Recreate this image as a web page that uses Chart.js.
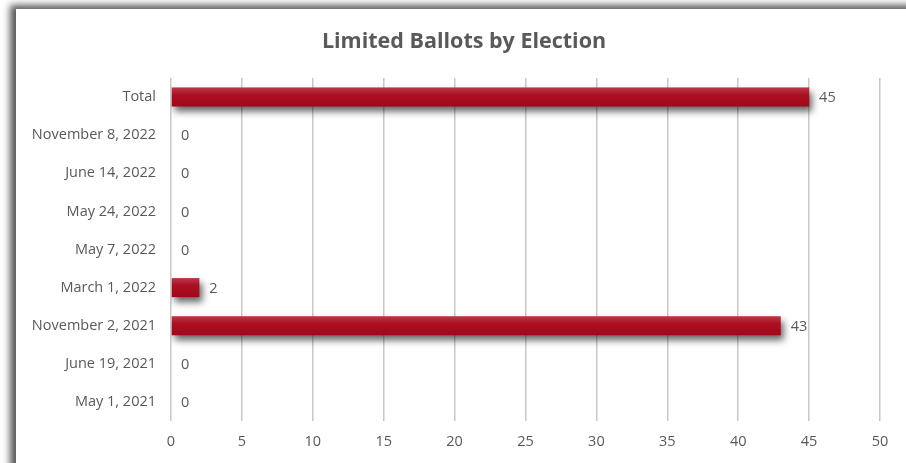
<!DOCTYPE html>
<html>
<head>
<meta charset="utf-8">
<script src="https://cdn.jsdelivr.net/npm/chart.js@4"></script>
<style>
  html, body { margin: 0; padding: 0; background: #fff; }
  #wrap { position: relative; width: 906px; height: 463px; }
</style>
</head>
<body>
<div id="wrap"><canvas id="chart"></canvas></div>
<script>
const elections = [
  "Total",
  "November 8, 2022",
  "June 14, 2022",
  "May 24, 2022",
  "May 7, 2022",
  "March 1, 2022",
  "November 2, 2021",
  "June 19, 2021",
  "May 1, 2021"
];
const ballots = [45, 0, 0, 0, 0, 2, 43, 0, 0];
const xTicks = [0, 5, 10, 15, 20, 25, 30, 35, 40, 45, 50];
const chartTitle = "Limited Ballots by Election";

const FONT = "'Open Sans', sans-serif";
const GREY = "#595959";

// grey shadow frame at top/left like the pasted picture, plus title
const framePlugin = {
  id: "frame",
  beforeDraw(chart) {
    const ctx = chart.ctx;
    ctx.save();
    ctx.fillStyle = "#fff";
    ctx.fillRect(0, 0, chart.width, chart.height);
    ctx.shadowColor = "rgba(0,0,0,0.65)";
    ctx.shadowBlur = 7;
    ctx.shadowOffsetX = -6;
    ctx.shadowOffsetY = -4;
    ctx.fillRect(16, 9, chart.width + 40, chart.height + 40);
    ctx.restore();

    // title sits centred on the white card, not on the plot
    ctx.save();
    ctx.fillStyle = GREY;
    ctx.font = "bold 21.5px " + FONT;
    ctx.textAlign = "center";
    ctx.textBaseline = "middle";
    ctx.fillText(chartTitle, 464, 42);
    ctx.restore();
  }
};

// drop shadow under the bars
const shadowPlugin = {
  id: "barShadow",
  beforeDatasetsDraw(chart) {
    const ctx = chart.ctx;
    ctx.save();
    ctx.shadowColor = "rgba(0,0,0,0.6)";
    ctx.shadowBlur = 7;
    ctx.shadowOffsetX = 3;
    ctx.shadowOffsetY = 5;
  },
  afterDatasetsDraw(chart) {
    const ctx = chart.ctx;
    ctx.restore();
    // glossy top on each bar + value labels
    const meta = chart.getDatasetMeta(0);
    ctx.save();
    meta.data.forEach((bar, i) => {
      const top = bar.y - bar.height / 2;
      const w = bar.x - bar.base;
      if (w > 0) {
        const g = ctx.createLinearGradient(0, top, 0, top + bar.height);
        g.addColorStop(0, "rgba(255,255,255,0.2)");
        g.addColorStop(0.4, "rgba(255,255,255,0.03)");
        g.addColorStop(1, "rgba(0,0,0,0.05)");
        ctx.fillStyle = g;
        ctx.fillRect(bar.base, top, w, bar.height);
      }
      ctx.fillStyle = GREY;
      ctx.font = "14.5px " + FONT;
      ctx.textAlign = "left";
      ctx.textBaseline = "middle";
      ctx.fillText(ballots[i], bar.x + 10, bar.y + 1);
    });
    ctx.restore();
  }
};

new Chart(document.getElementById("chart"), {
  type: "bar",
  data: {
    labels: elections,
    datasets: [{
      data: ballots,
      backgroundColor: "#a8071a",
      borderWidth: 0,
      barPercentage: 0.5,
      categoryPercentage: 1
    }]
  },
  options: {
    indexAxis: "y",
    responsive: true,
    maintainAspectRatio: false,
    animation: false,
    layout: { padding: { left: 0, right: 26, top: 78, bottom: 12 } },
    scales: {
      x: {
        min: 0,
        max: 50,
        afterBuildTicks: s => { s.ticks = xTicks.map(v => ({ value: v })); },
        grid: { color: "#c8c8c8", lineWidth: 1.5, drawTicks: false },
        border: { display: false },
        ticks: { color: GREY, font: { family: FONT, size: 14.5 }, padding: 12 },
        afterFit: s => { s.height = 30; }
      },
      y: {
        grid: { display: false, drawTicks: false },
        border: { display: false },
        ticks: { color: GREY, font: { family: FONT, size: 14.5 }, padding: 15 },
        afterFit: s => { s.width = 171; }
      }
    },
    plugins: {
      legend: { display: false },
      tooltip: { enabled: false },
      title: { display: false }
    }
  },
  plugins: [framePlugin, shadowPlugin]
});
</script>
</body>
</html>
